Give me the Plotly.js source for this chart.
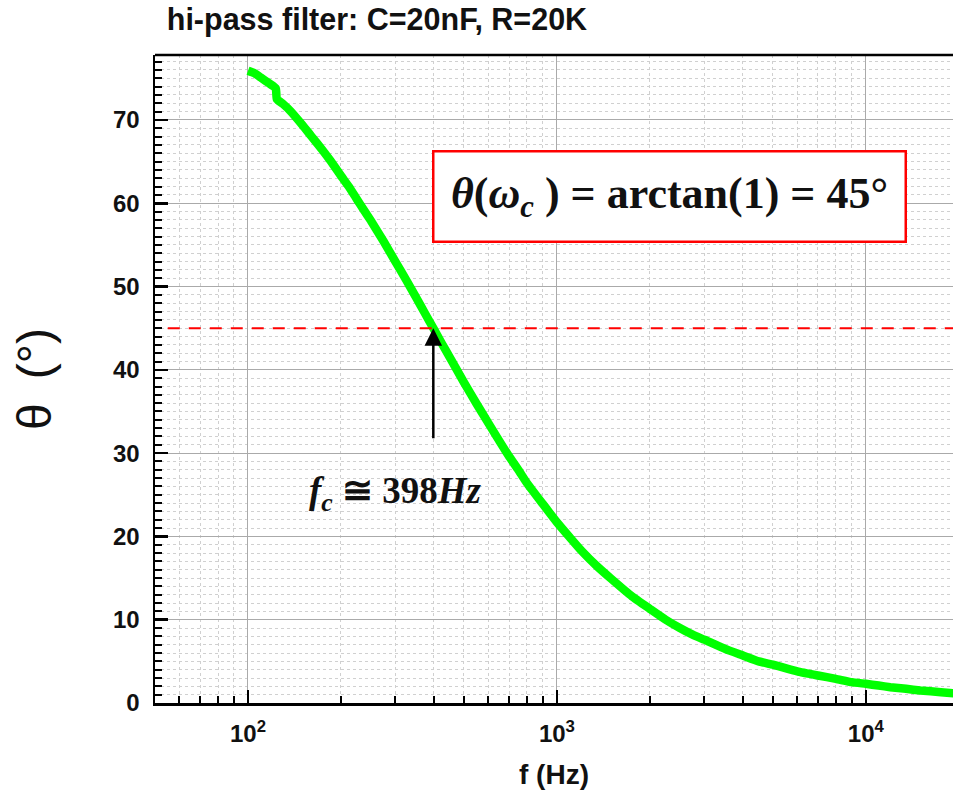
<!DOCTYPE html>
<html>
<head>
<meta charset="utf-8">
<script src="https://cdn.plot.ly/plotly-3.0.1.min.js"></script>
<style>html,body{margin:0;padding:0;background:#fff;}#chart{width:953px;height:791px;}</style>
</head>
<body>
<div id="chart"></div>
<script>
// Frequency (Hz) and phase angle (degrees)
const freqHz = [100,105,110,117,123,124,130,137,150,160,175,185,200,212,225,237,250,275,300,325,350,375,398,425,450,500,550,600,650,700,750,800,900,1000,1100,1200,1350,1500,1750,2000,2250,2500,2750,3000,3500,4000,4500,5000,6000,7000,8000,9000,10000,11000,12000,13500,15000,17500,20000];
const thetaDeg = [75.9,75.6,75.1,74.4,73.8,72.5,71.9,71.1,69.4,68.1,66.3,65.1,63.3,62.0,60.5,59.2,57.9,55.4,53.0,50.8,48.7,46.7,45.0,43.1,41.5,38.5,35.9,33.6,31.5,29.6,28.0,26.4,23.9,21.7,19.9,18.3,16.4,14.9,12.8,11.3,10.0,9.0,8.2,7.6,6.5,5.7,5.0,4.6,3.8,3.3,2.9,2.5,2.3,2.1,1.9,1.7,1.5,1.3,1.1];
const cutoffHz = 398;
const cutoffDeg = 45;
const arrowTailDeg = 31.6;
const xTickVals = [100, 1000, 10000];
const xTickText = ['10<sup>2</sup>', '10<sup>3</sup>', '10<sup>4</sup>'];
const xMinorVals = [50,60,70,80,90,200,300,400,500,600,700,800,900,2000,3000,4000,5000,6000,7000,8000,9000];

const traces = [{
  x: freqHz, y: thetaDeg, type: 'scatter', mode: 'lines',
  line: {color: '#00ff00', width: 8.5, shape: 'spline', smoothing: 0.4}, hoverinfo: 'skip'
}];

const axisFont = {family: 'Arial, Liberation Sans', size: 24, color: '#111', weight: 'bold'};

const layout = {
  width: 953, height: 791,
  margin: {l: 155, r: 0, t: 55, b: 88},
  paper_bgcolor: '#fff', plot_bgcolor: '#fff',
  showlegend: false,
  title: {
    text: 'hi-pass filter: C=20nF, R=20K',
    font: {family: 'Arial, Liberation Sans', size: 30.5, color: '#111', weight: 'bold'},
    xref: 'container', x: 0.175, xanchor: 'left',
    yref: 'container', y: 0.975, yanchor: 'middle'
  },
  xaxis: {
    type: 'log', range: [Math.log10(50), Math.log10(19150)],
    tickvals: xTickVals, ticktext: xTickText,
    tickfont: axisFont, ticklabelstandoff: 8,
    ticks: 'inside', ticklen: 13, tickwidth: 2.5, tickcolor: '#000',
    showline: true, linecolor: '#000', linewidth: 2.5, mirror: false,
    showgrid: true, gridcolor: '#aaaaaa', gridwidth: 1,
    zeroline: false,
    minor: {tickvals: xMinorVals,
            ticks: 'inside', ticklen: 7, tickwidth: 2, tickcolor: '#000',
            showgrid: true, gridcolor: '#d0d0d0', gridwidth: 1, griddash: 'dot'},
    title: {text: 'f (Hz)', font: {family: 'Arial, Liberation Sans', size: 28, color: '#111', weight: 'bold'}, standoff: 18},
    automargin: false
  },
  yaxis: {
    range: [0, 77.8], dtick: 10, tick0: 0,
    tickfont: axisFont, ticklabelstandoff: 8,
    ticks: 'inside', ticklen: 13, tickwidth: 2.5, tickcolor: '#000',
    showline: true, linecolor: '#000', linewidth: 2.5, mirror: false,
    showgrid: true, gridcolor: '#aaaaaa', gridwidth: 1,
    zeroline: false,
    minor: {dtick: 1, ticks: 'inside', ticklen: 7, tickwidth: 2, tickcolor: '#000',
            showgrid: true, gridcolor: '#d0d0d0', gridwidth: 1, griddash: 'dot'},
    title: {text: 'θ\u2002(°)', font: {family: 'Arial, Liberation Sans', size: 48, color: '#111'}, standoff: 46},
    automargin: false
  },
  shapes: [
    {type: 'line', xref: 'paper', x0: 0.016, x1: 1, yref: 'y', y0: cutoffDeg, y1: cutoffDeg,
     line: {color: '#ff0000', width: 2, dash: '12px,9px'}},
    {type: 'line', xref: 'paper', x0: 0, x1: 1, yref: 'paper', y0: 1, y1: 1,
     line: {color: '#000', width: 2.5}}
  ],
  annotations: [
    {x: Math.log10(cutoffHz), y: cutoffDeg, xref: 'x', yref: 'y',
     ax: Math.log10(cutoffHz), ay: arrowTailDeg, axref: 'x', ayref: 'y',
     text: '', showarrow: true, arrowhead: 2, arrowsize: 1.4, arrowwidth: 2.5, arrowcolor: '#000'},
    {x: 0.3008, y: 0.324, xref: 'paper', yref: 'paper', xanchor: 'center', yanchor: 'middle',
     text: '<b><i>f</i><sub><i>c</i></sub> ≅ 398<i>Hz</i></b>', showarrow: false,
     font: {family: 'Liberation Serif, Times New Roman', size: 37, color: '#111'}},
    {x: 0.6447, y: 0.7824, xref: 'paper', yref: 'paper', xanchor: 'center', yanchor: 'middle',
     text: '<b><i>θ</i>(<i>ω</i><sub><i>c</i></sub> ) = arctan(1) = 45°</b>', showarrow: false,
     width: 470, height: 88, bgcolor: '#fff', bordercolor: '#ff0000', borderwidth: 2.5, borderpad: 0,
     font: {family: 'Liberation Serif, Times New Roman', size: 44, color: '#111'}}
  ]
};

Plotly.newPlot('chart', traces, layout, {displayModeBar: false, staticPlot: true});
</script>
</body>
</html>
